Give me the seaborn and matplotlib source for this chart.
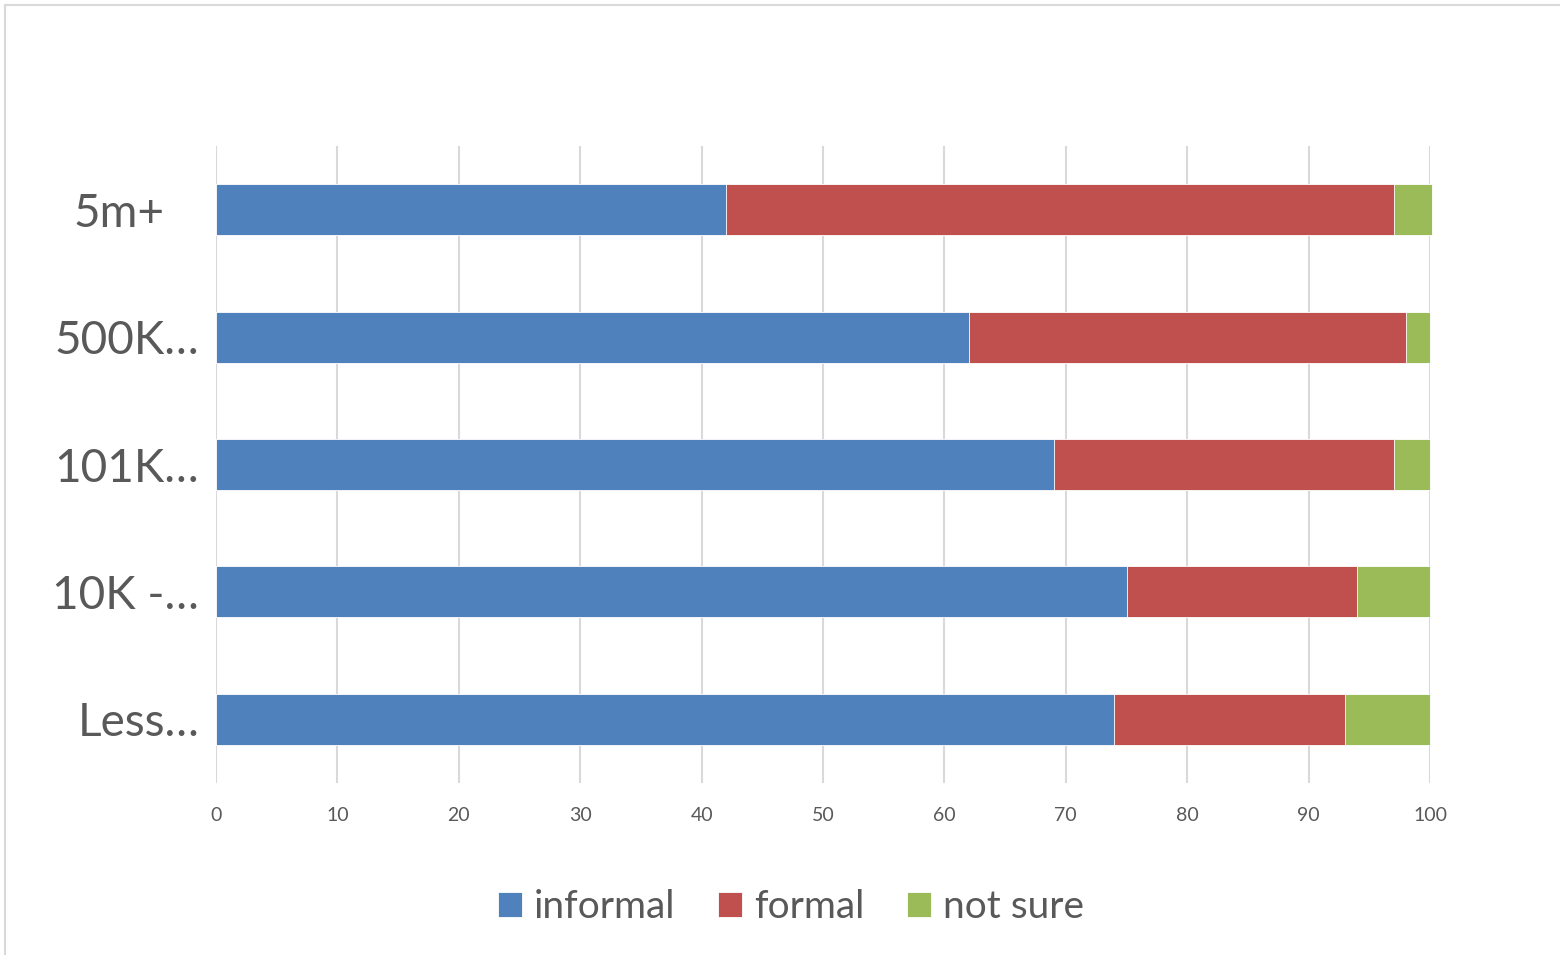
import pandas as pd
import seaborn as sns
import matplotlib.pyplot as plt
from matplotlib.lines import Line2D
from matplotlib.transforms import ScaledTranslation

# data (percent)
categories = ["5m+", "500K…", "101K…", "10K -…", "Less…"]
informal = [42, 62, 69, 75, 74]
formal = [55, 36, 28, 19, 19]
not_sure = [3.2, 2, 3, 6, 7]

df = pd.DataFrame({"group": categories, "informal": informal,
                   "formal": formal, "not sure": not_sure})
df["inf_formal"] = df["informal"] + df["formal"]
df["total"] = df["inf_formal"] + df["not sure"]

sns.set_theme(style="white")
plt.rcParams["font.family"] = ["Lato", "DejaVu Sans"]

txt = "#595959"
fig = plt.figure(figsize=(15.6, 9.55), dpi=100)
ax = fig.add_axes([216/1560, 1 - 783/955, (1430 - 216)/1560, (783 - 146)/955])

# stacked bars: draw cumulative totals back to front
sns.barplot(data=df, y="group", x="total", color="#9BBB59", width=0.4,
            saturation=1, orient="h", label="not sure", ax=ax,
            edgecolor="white", linewidth=0.6)
sns.barplot(data=df, y="group", x="inf_formal", color="#C0504D", width=0.4,
            saturation=1, orient="h", label="formal", ax=ax,
            edgecolor="white", linewidth=0.6)
sns.barplot(data=df, y="group", x="informal", color="#4F81BD", width=0.4,
            saturation=1, orient="h", label="informal", ax=ax,
            edgecolor="white", linewidth=0.6)
for p in ax.patches:
    p.set_clip_on(False)

ax.set_xlim(0, 100)
ax.set_ylim(4.5, -0.5)
ax.set_xticks(range(0, 101, 10))
ax.set_xlabel("")
ax.set_ylabel("")
ax.xaxis.grid(True, color="#d9d9d9", linewidth=1.5)
ax.yaxis.grid(False)
ax.set_axisbelow(True)
for s in ax.spines.values():
    s.set_visible(False)
ax.tick_params(axis="x", length=0, pad=17, labelsize=14, labelcolor=txt)
ax.tick_params(axis="y", length=0, pad=12, labelsize=33, labelcolor=txt)

# the top label sits a bit left of the others in the original
lbl = ax.get_yticklabels()[0]
lbl.set_transform(lbl.get_transform() + ScaledTranslation(-0.35, 0, fig.dpi_scale_trans))

h, l = ax.get_legend_handles_labels()
order = [l.index(n) for n in ["informal", "formal", "not sure"]]
if ax.legend_:
    ax.legend_.remove()
fig.legend([h[i] for i in order], [l[i] for i in order], loc="center",
           bbox_to_anchor=(791/1560, 1 - 907/955), ncol=3, frameon=False,
           fontsize=28, handlelength=0.62, handleheight=0.62,
           handletextpad=0.3, columnspacing=1.1, labelcolor=txt)

# light chart border (top and left visible in the reference)
fig.add_artist(Line2D([5/1560, 1], [1 - 5/955, 1 - 5/955], color="#d9d9d9", lw=1.5))
fig.add_artist(Line2D([5/1560, 5/1560], [0, 1 - 5/955], color="#d9d9d9", lw=1.5))

fig.savefig("out.png", dpi=100)
